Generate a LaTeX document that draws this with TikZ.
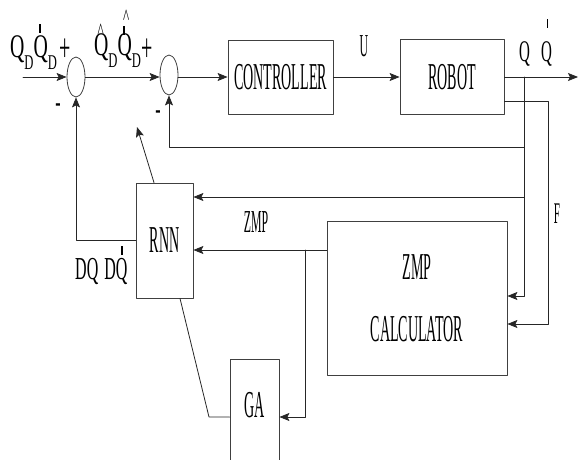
\documentclass[tikz,border=0pt]{standalone}
\usepackage{fontspec}
\setmainfont[FakeStretch=0.37]{Liberation Serif}
\newfontfamily\lblfont[FakeStretch=0.5]{Liberation Serif}
\newfontfamily\qfont[FakeStretch=0.6]{Liberation Serif}
\usetikzlibrary{arrows.meta,shapes.geometric}

\newcommand{\qsub}[1]{\raisebox{-12pt}{\fontsize{21}{21}\selectfont #1}}
\newcommand{\qtick}[2][25pt]{\makebox[0pt][l]{\hspace{5.5pt}\rule[#1]{1.8pt}{9pt}}#2}
\newcommand{\qhat}[2]{\makebox[0pt][l]{\hspace{#1}\raisebox{#2}{\fontsize{22}{22}\selectfont\textasciicircum}}}

\begin{document}
\begin{tikzpicture}[x=1pt,y=-1pt,>={Stealth[length=10pt,width=8pt,inset=2pt]},line cap=round,line join=round,
  wire/.style={line width=0.8pt,draw=black!85},
  blk/.style={draw=black!75,line width=0.8pt,font=\fontsize{38}{40}\selectfont},
  sumnode/.style={ellipse,draw=black!75,line width=0.8pt,minimum width=18pt,minimum height=40pt,inner sep=0pt},
  lbl/.style={inner sep=0pt,font=\lblfont\fontsize{32}{34}\selectfont},
  qlbl/.style={inner sep=0pt,font=\qfont\fontsize{33}{34}\selectfont}]
\useasboundingbox (0,0) rectangle (579,460);
\node[sumnode] (sumA) at (76,77) {};
\node[sumnode] (sumB) at (169,75) {};
\node[blk,minimum width=105pt,minimum height=74pt] (ctrl) at (280.5,77) {CONTROLLER};
\node[blk,minimum width=104pt,minimum height=75pt] (robot) at (452,77) {ROBOT};
\node[blk,minimum width=57pt,minimum height=115pt] (rnn) at (164.5,240.5) {RNN};
\node[blk,minimum width=180pt,minimum height=154pt,align=center] (zmpc) at (417,298) {ZMP\\[22pt]CALCULATOR};
\node[blk,minimum width=49pt,minimum height=116pt,text height=25pt,text depth=24pt] (ga) at (254.5,417) {GA};
\coordinate (in) at (23,77);
\coordinate (out) at (578,77);
\coordinate (qtap) at (524,77);
\coordinate (fbB) at (524,147);
\coordinate (fbR) at (524,197);
\coordinate (fbend) at (548,101);
\coordinate (ztap) at (305,250);
\coordinate (gabend) at (209,417);
\coordinate (rnnarr) at (137,127);
\draw[wire,->] (in) -- (sumA.west);
\draw[wire,->] (sumA.east) -- (sumA.east -| sumB.west);
\draw[wire,->] (sumA.east -| sumB.east) -- (ctrl.west);
\draw[wire,->] (ctrl) -- (robot);
\draw[wire,->] (robot) -- (out);
\draw[wire,->] (qtap) |- ([yshift=2pt]zmpc.east);
\draw[wire,->] (fbB) -| (sumB.south);
\draw[wire,->] (fbR) -- (rnn.east |- fbR);
\draw[wire,->] (robot.east |- fbend) -- (fbend) |- ([yshift=-26pt]zmpc.east);
\draw[wire,->] (zmpc.west |- ztap) -- (rnn.east |- ztap);
\draw[wire,->] (ztap) |- (ga.east);
\draw[wire] ([xshift=15.5pt]rnn.south) -- (gabend) -- (ga.west);
\draw[wire,->] (rnn.west) -| (sumA.south);
\draw[wire,->] ([xshift=-10.5pt]rnn.north) -- (rnnarr);
% signal labels
\node[qlbl,anchor=base west] (qd) at (10,58) {Q\qsub{D}\qtick{Q}\qsub{D}};
\node[lbl,font=\lblfont\fontsize{40}{40}\selectfont] (plusA) at (65,50) {+};
\node[lbl] (minusA) at (58,108) {-};
\node[qlbl,anchor=base west] (qhatd) at (94,56) {\qhat{3.5pt}{17.5pt}Q\qsub{D}\qhat{5.5pt}{31.5pt}\qtick[21pt]{Q}\qsub{D}};
\node[lbl,font=\lblfont\fontsize{40}{40}\selectfont] (plusB) at (147,50) {+};
\node[lbl] (minusB) at (158,115) {-};
\node[font=\fontsize{32}{34}\selectfont,anchor=base] (ulbl) at (364,57) {U};
\node[lbl,anchor=base west,font=\lblfont\fontsize{30}{32}\selectfont] (qout) at (519,62) {Q\hspace{11pt}\qtick[34pt]{Q}};
\node[font=\fontsize{30}{30}\selectfont] (flbl) at (557,214) {F};
\node[font=\fontsize{32}{34}\selectfont] (zlbl) at (256,222) {ZMP};
\node[lbl,anchor=base west] (dq) at (75,279) {DQ\hspace{6pt}D\qtick[24pt]{Q}};
\end{tikzpicture}
\end{document}
